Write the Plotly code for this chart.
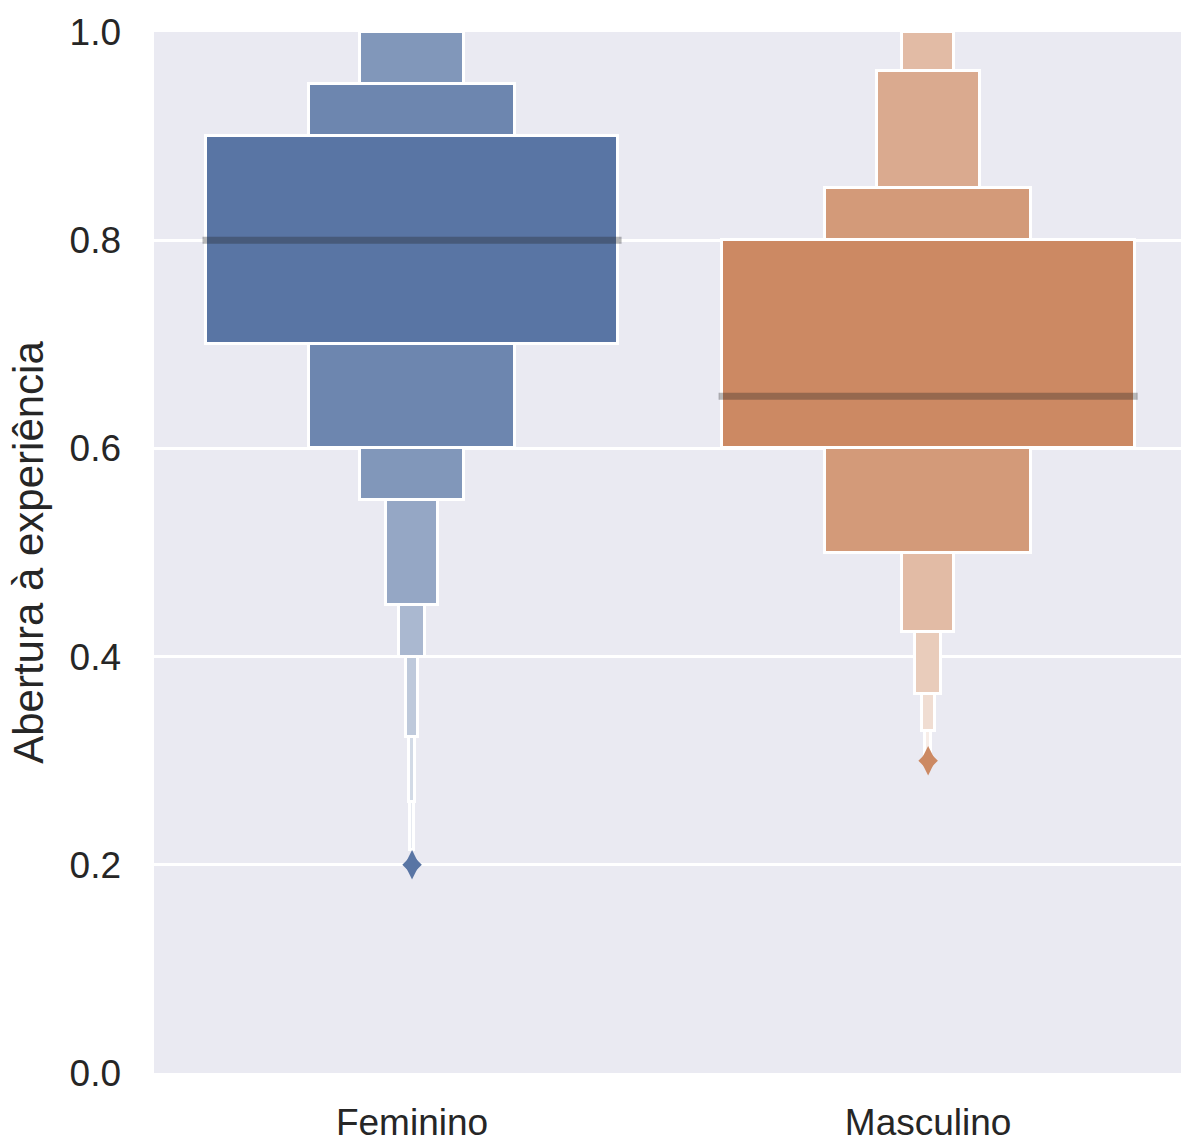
import plotly.graph_objects as go

# Letter-value (boxen) summary of "Abertura à experiência" by sex
categories = ["Feminino", "Masculino"]

# Letter-value box bounds, innermost (quartiles) to outermost
fem_lower = [0.70, 0.60, 0.55, 0.45, 0.40, 0.323, 0.26, 0.214]
fem_upper = [0.90, 0.95, 1.00, 1.00, 1.00, 1.00, 1.00, 1.00]
fem_median = 0.80
fem_outliers = [0.20]

mas_lower = [0.60, 0.50, 0.50, 0.424, 0.364, 0.329, 0.305]
mas_upper = [0.80, 0.85, 0.963, 1.00, 1.00, 1.00, 1.00]
mas_median = 0.65
mas_outliers = [0.30]

y_ticks = [0.0, 0.2, 0.4, 0.6, 0.8, 1.0]

base_colors = [(89, 117, 164), (204, 137, 99)]
FONT = "Liberation Sans, Arial, sans-serif"
TEXT = "#262626"
BOX_WIDTH = 0.8


def level_color(rgb, i, n):
    t = 0.85 * i / max(n - 1, 1)
    r, g, b = (round(c + t * (255 - c)) for c in rgb)
    return f"rgb({r},{g},{b})"


groups = [
    (fem_lower, fem_upper, fem_median, fem_outliers),
    (mas_lower, mas_upper, mas_median, mas_outliers),
]

fig = go.Figure()

for pos, ((lower, upper, median, outliers), rgb) in enumerate(zip(groups, base_colors)):
    color = f"rgb({rgb[0]},{rgb[1]},{rgb[2]})"
    # thin-diamond outlier marks: a tall diamond widened by a small square one
    for symbol, size in (("diamond-tall", 21), ("diamond", 15)):
        fig.add_trace(go.Scatter(
            x=[pos] * len(outliers), y=outliers, mode="markers",
            marker=dict(symbol=symbol, size=size, color=color, line=dict(width=0)),
            showlegend=False, hoverinfo="y",
        ))

for pos, ((lower, upper, median, outliers), rgb) in enumerate(zip(groups, base_colors)):
    n = len(lower)
    # narrowest (outermost) level first so wider boxes are painted on top
    for i in reversed(range(n)):
        fig.add_trace(go.Bar(
            x=[pos], base=[lower[i]], y=[upper[i] - lower[i]],
            width=[BOX_WIDTH / 2 ** i],
            marker=dict(color=level_color(rgb, i, n),
                        line=dict(color="white", width=3)),
            showlegend=False, hoverinfo="skip",
        ))

for pos, (lower, upper, median, outliers) in enumerate(groups):
    half = BOX_WIDTH / 2 + 0.006
    fig.add_trace(go.Scatter(
        x=[pos - half, pos + half], y=[median, median], mode="lines",
        line=dict(color="rgba(35,35,35,0.32)", width=7),
        showlegend=False, hoverinfo="skip",
    ))

fig.update_layout(
    width=1182, height=1142,
    margin=dict(l=154, r=1, t=32, b=69),
    paper_bgcolor="white", plot_bgcolor="#eaeaf2",
    barmode="overlay", bargap=0,
    font=dict(family=FONT, color=TEXT),
    showlegend=False,
)
fig.update_xaxes(
    range=[-0.5, 1.49], tickvals=[0, 1], ticktext=categories,
    showgrid=False, zeroline=False, showline=False, ticks="",
    tickfont=dict(size=37, color=TEXT, family=FONT),
    ticklabelstandoff=24, automargin=False,
)
fig.update_yaxes(
    range=[0, 1], tickvals=y_ticks, tickformat=".1f",
    showgrid=True, gridcolor="white", gridwidth=3,
    zeroline=False, showline=False, ticks="",
    tickfont=dict(size=37, color=TEXT, family=FONT),
    ticklabelstandoff=32, automargin=False,
    title=dict(text="Abertura à experiência",
               font=dict(size=42, color=TEXT, family=FONT), standoff=12),
)

fig.write_html("out.html")
